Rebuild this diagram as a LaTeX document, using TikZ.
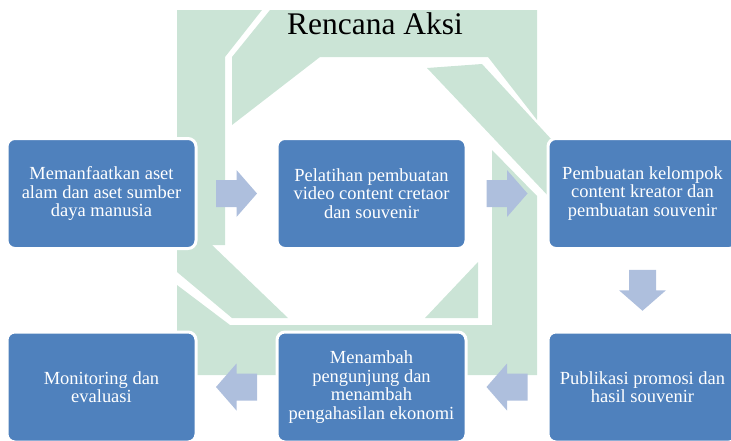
\documentclass[tikz,border=0pt]{standalone}
\usepackage{fontspec}
\setmainfont{Liberation Serif}
\usetikzlibrary{calc}
\definecolor{boxblue}{RGB}{79,129,189}
\definecolor{arrowblue}{RGB}{174,191,221}
\definecolor{markgreen}{RGB}{203,228,214}
\tikzset{
    plan box/.style={
        draw=white,line width=2.25pt,rounded corners=6pt,
        fill=boxblue,text=white,
        minimum width=141.75pt,minimum height=82.5pt,
        align=center,inner sep=0pt,
        font=\fontsize{13.85}{13.8}\selectfont
    },
    flow arrow/.pic={
        \fill[arrowblue] (-20.5,-13.5) -- (0,-13.5) -- (0,-23.5) -- (20.5,0)
            -- (0,23.5) -- (0,13.5) -- (-20.5,13.5) -- cycle;
    }
}

\begin{document}
\begin{tikzpicture}[x=0.75pt,y=-0.75pt]
    \useasboundingbox (0,0) rectangle (731,440);
    % faint logo behind the chart
    \fill[markgreen] (177,10) -- (262,10) -- (225,57) -- (225,245) -- (177,245) -- cycle;
    \fill[markgreen] (270,10) -- (537,10) -- (537,120) -- (488,57) -- (320,57)
        -- (232,125) -- (232,57) -- cycle;
    \fill[markgreen] (427,68) -- (482,64) -- (552,140) -- (552,200) -- cycle;
    \fill[markgreen] (492,150) -- (537,196) -- (537,325) -- (492,325) -- cycle;
    \fill[markgreen] (478,262) -- (478,318) -- (425,318) -- cycle;
    \fill[markgreen] (177,245) -- (212,245) -- (288,318) -- (232,318) -- (177,272) -- cycle;
    \fill[markgreen] (177,285) -- (230,325) -- (537,325) -- (537,375) -- (177,375) -- cycle;
    % title
    \node[font=\fontsize{23.6}{28}\selectfont,anchor=base] (judul) at (375,34) {Rencana Aksi};
    % steps
    \foreach \x/\y/\name/\teks in {
        101.5/193.5/aset/{Memanfaatkan aset\\alam dan aset sumber\\daya manusia},
        371.5/193.5/pelatihan/{Pelatihan pembuatan\\video content cretaor\\dan souvenir},
        642.5/193.5/kelompok/{Pembuatan kelompok\\content kreator dan\\pembuatan souvenir},
        642.5/387/publikasi/{Publikasi promosi dan\\hasil souvenir},
        371.5/387/menambah/{Menambah\\pengunjung dan\\menambah\\pengahasilan ekonomi},
        101.5/387/monitoring/{Monitoring dan\\evaluasi}}
        \node[plan box] (\name) at (\x,\y) {\teks};
    % arrows between steps
    \pic at ($(aset.east)!.5!(pelatihan.west)$) {flow arrow};
    \pic at ($(pelatihan.east)!.5!(kelompok.west)$) {flow arrow};
    \pic[rotate=-90] at ($(kelompok.south)!.5!(publikasi.north)$) {flow arrow};
    \pic[rotate=180] at ($(publikasi.west)!.5!(menambah.east)$) {flow arrow};
    \pic[rotate=180] at ($(menambah.west)!.5!(monitoring.east)$) {flow arrow};
\end{tikzpicture}
\end{document}
